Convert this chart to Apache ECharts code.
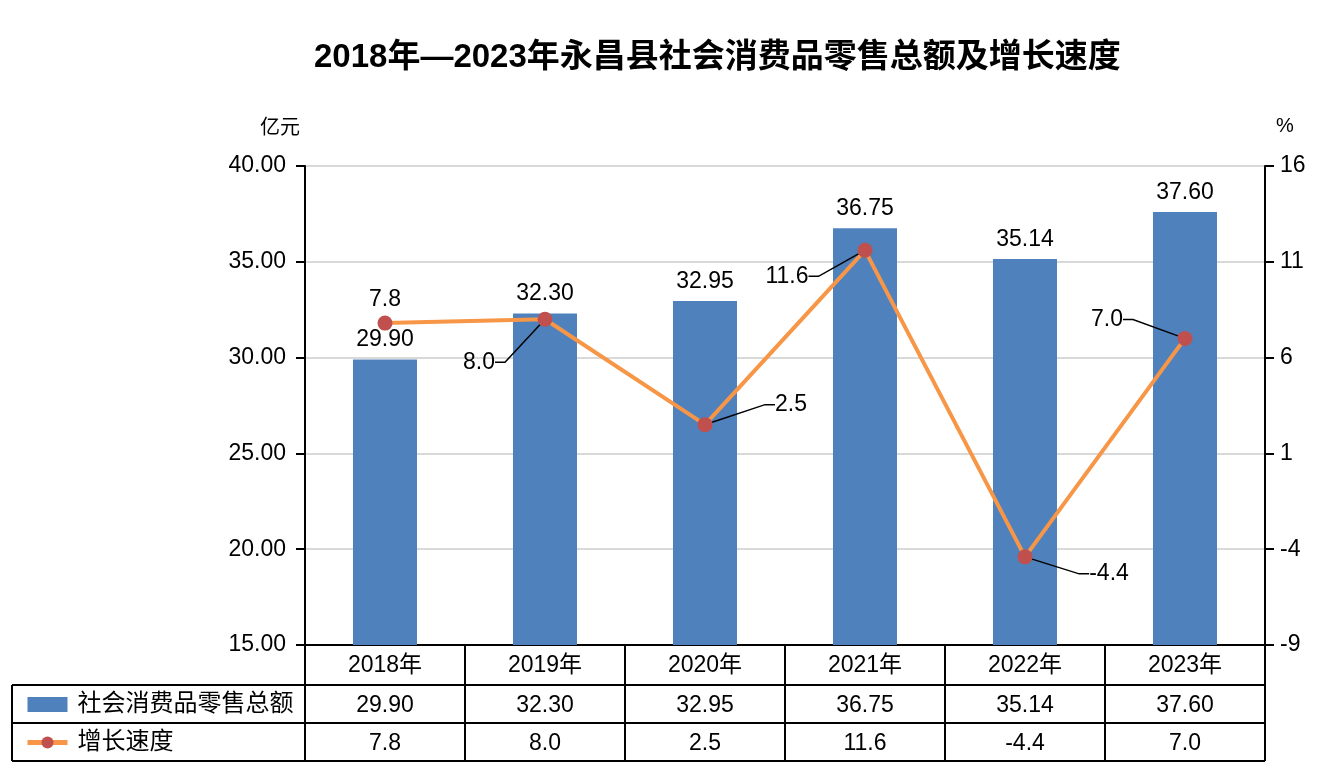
<!DOCTYPE html>
<html>
<head>
<meta charset="utf-8">
<title>永昌县社会消费品零售总额及增长速度</title>
<script src="https://cdn.jsdelivr.net/npm/echarts@6/dist/echarts.min.js"></script>
<style>
  html, body { margin: 0; padding: 0; background: #fff; }
  #chart { width: 1320px; height: 774px; }
</style>
</head>
<body>
<div id="chart"></div>
<script>
// Data
var years = ["2018年", "2019年", "2020年", "2021年", "2022年", "2023年"];
var retailTotal = [29.90, 32.30, 32.95, 36.75, 35.14, 37.60];	// 亿元
var growthRate = [7.8, 8.0, 2.5, 11.6, -4.4, 7.0];				// %
var leftTicks = { min: 15, max: 40, interval: 5 };
var rightTicks = { min: -9, max: 16, interval: 5 };

// Where each growth label sits relative to its point (px)
var labelOffsets = [[0, -23], [-66, 43], [86, -20], [-78, 26], [84, 17], [-78, -19]];

// Layout
var gridLeft = 305, gridRight = 1265, gridTop = 166, gridBottom = 645;
var tableLeft = 12;
var rowLines = [685, 723, 761];		// horizontal rules of the table

var numFont = "'Liberation Sans', Arial, sans-serif";
var cjkFont = "'Liberation Sans', 'Noto Sans CJK SC', sans-serif";

var chart = echarts.init(document.getElementById("chart"));

// Table rules
var graphics = [];
rowLines.forEach(function (y) {
	graphics.push({
		type: "line",
		shape: { x1: tableLeft, y1: y, x2: gridRight, y2: y },
		style: { stroke: "#000", lineWidth: 2 }
	});
});
graphics.push({
	type: "line",
	shape: { x1: tableLeft, y1: rowLines[0], x2: tableLeft, y2: rowLines[2] },
	style: { stroke: "#000", lineWidth: 2 }
});

var option = {
	backgroundColor: "#fff",
	animation: false,
	title: {
		text: "2018年—2023年永昌县社会消费品零售总额及增长速度",
		left: 309,
		top: 36,
		textStyle: { fontSize: 33, fontWeight: "bold", color: "#000", fontFamily: cjkFont }
	},
	legend: {
		orient: "vertical",
		left: 25,
		top: 692,
		padding: 0,
		itemWidth: 40,
		itemHeight: 15,
		itemGap: 13,
		textStyle: { fontSize: 24, color: "#000", fontFamily: cjkFont, lineHeight: 25, padding: [0, 0, 0, 5] },
		data: [
			{ name: "社会消费品零售总额", icon: "rect" },
			{ name: "增长速度", lineStyle: { width: 5 } }
		]
	},
	grid: {
		left: gridLeft,
		right: 1320 - gridRight,
		top: gridTop,
		bottom: 774 - gridBottom
	},
	xAxis: [
		{
			type: "category",
			data: years,
			position: "bottom",
			axisLine: { onZero: false, lineStyle: { color: "#000", width: 2 } },
			axisTick: { show: true, length: rowLines[2] - gridBottom, lineStyle: { color: "#000", width: 2 } },
			axisLabel: { margin: 9, fontSize: 23, color: "#000", fontFamily: cjkFont }
		},
		{
			type: "category",
			data: retailTotal.map(function (v) { return v.toFixed(2); }),
			position: "bottom",
			offset: 40,
			axisLine: { show: false, onZero: false },
			axisTick: { show: false },
			axisLabel: { margin: 9, fontSize: 23, color: "#000", fontFamily: numFont }
		},
		{
			type: "category",
			data: growthRate.map(function (v) { return v.toFixed(1); }),
			position: "bottom",
			offset: 78,
			axisLine: { show: false, onZero: false },
			axisTick: { show: false },
			axisLabel: { margin: 9, fontSize: 23, color: "#000", fontFamily: numFont }
		}
	],
	yAxis: [
		{
			type: "value",
			min: leftTicks.min,
			max: leftTicks.max,
			interval: leftTicks.interval,
			name: "亿元",
			nameLocation: "end",
			nameGap: 28,
			nameTextStyle: { fontSize: 20, color: "#000", fontFamily: cjkFont, align: "right", padding: [0, 5, 0, 0] },
			axisLine: { show: true, lineStyle: { color: "#000", width: 2 } },
			axisTick: { show: true, length: 9, lineStyle: { color: "#000", width: 2 } },
			axisLabel: {
				margin: 19, fontSize: 23, color: "#000", fontFamily: numFont,
				formatter: function (v) { return v.toFixed(2); }
			},
			splitLine: { lineStyle: { color: "#d9d9d9", width: 2 } }
		},
		{
			type: "value",
			min: rightTicks.min,
			max: rightTicks.max,
			interval: rightTicks.interval,
			name: "%",
			nameLocation: "end",
			nameGap: 30,
			nameTextStyle: { fontSize: 20, color: "#000", fontFamily: numFont, align: "left", padding: [0, 0, 0, 11] },
			axisLine: { show: true, lineStyle: { color: "#000", width: 2 } },
			axisTick: { show: true, length: 9, lineStyle: { color: "#000", width: 2 } },
			axisLabel: { margin: 15, fontSize: 23, color: "#000", fontFamily: numFont },
			splitLine: { show: false }
		}
	],
	series: [
		{
			name: "社会消费品零售总额",
			type: "bar",
			data: retailTotal,
			barWidth: "40%",
			itemStyle: { color: "#4f81bd" },
			label: {
				show: true,
				position: "top",
				distance: 8,
				fontSize: 23,
				color: "#000",
				fontFamily: numFont,
				formatter: function (p) { return p.value.toFixed(2); }
			}
		},
		{
			name: "增长速度",
			type: "line",
			yAxisIndex: 1,
			data: growthRate.map(function (v, i) {
				return { value: v, labelLine: { show: i !== 0 } };
			}),
			symbol: "circle",
			symbolSize: 15,
			lineStyle: { color: "#f79646", width: 4 },
			itemStyle: { color: "#c0504d" },
			z: 5,
			label: {
				show: true,
				position: "inside",
				padding: [0, 5],
				fontSize: 23,
				color: "#000",
				fontFamily: numFont,
				formatter: function (p) { return p.value.toFixed(1); }
			},
			labelLine: {
				show: true,
				length2: 10,
				lineStyle: { color: "#000", width: 1.5 }
			},
			labelLayout: function (params) {
				var off = labelOffsets[params.dataIndex];
				return { dx: off[0], dy: off[1] };
			}
		}
	],
	graphic: graphics
};

chart.setOption(option);
</script>
</body>
</html>
